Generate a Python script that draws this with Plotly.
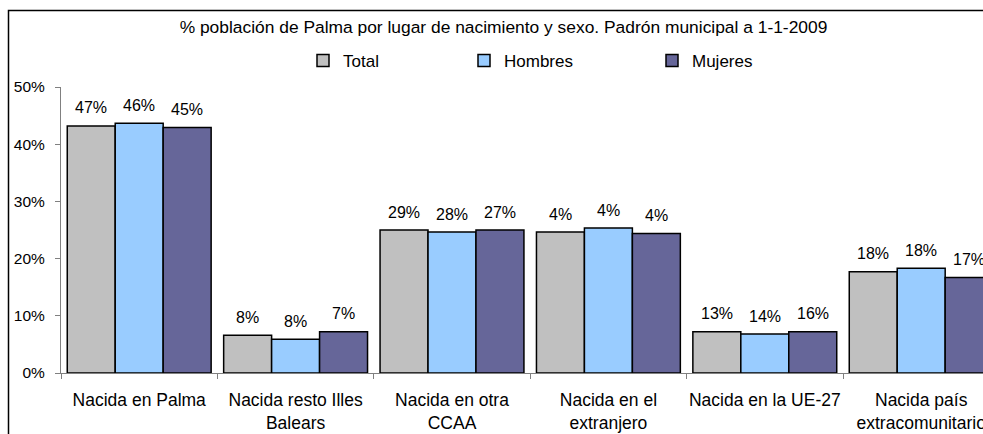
import plotly.graph_objects as go

categories = ["Nacida en Palma", "Nacida resto Illes<br>Balears", "Nacida en otra<br>CCAA",
              "Nacida en el<br>extranjero", "Nacida en la UE-27", "Nacida país<br>extracomunitario"]
series_names = ["Total", "Hombres", "Mujeres"]
total_vals = [43.2, 6.6, 25.0, 24.65, 7.2, 17.7]
hombres_vals = [43.65, 5.9, 24.65, 25.35, 6.8, 18.3]
mujeres_vals = [42.9, 7.2, 25.0, 24.4, 7.2, 16.7]
total_labels = ["47%", "8%", "29%", "4%", "13%", "18%"]
hombres_labels = ["46%", "8%", "28%", "4%", "14%", "18%"]
mujeres_labels = ["45%", "7%", "27%", "4%", "16%", "17%"]
colors = ["#C0C0C0", "#99CCFF", "#666699"]
y_ticks = [0, 10, 20, 30, 40, 50]
y_tick_text = ["0%", "10%", "20%", "30%", "40%", "50%"]

W, H = 983, 434
ML, MR, MT, MB = 61, 0, 87, 61
plot_w = W - ML - MR
cat_px = 156.4
x_end = -0.5 + plot_w / cat_px
bargap = 0.08
bar_px = cat_px * (1 - bargap) / 3
FONT = "Liberation Sans, Arial, sans-serif"

values = [total_vals, hombres_vals, mujeres_vals]
labels = [total_labels, hombres_labels, mujeres_labels]
legend_ids = ["legend", "legend2", "legend3"]

fig = go.Figure()
for i, name in enumerate(series_names):
    fig.add_trace(go.Bar(
        x=categories, y=values[i], name=name,
        marker=dict(color=colors[i], line=dict(color="black", width=1.5)),
        legend=legend_ids[i], hoverinfo="skip",
    ))

annotations = []
for i in range(3):
    for c, v, t in zip(categories, values[i], labels[i]):
        annotations.append(dict(
            x=c, y=v, text=t, showarrow=False, xref="x", yref="y",
            xshift=(i - 1) * bar_px, yshift=18, yanchor="middle",
            font=dict(family=FONT, size=16, color="black"),
        ))

def px_to_paper_x(px):
    return (px - ML) / plot_w

plot_h = H - MT - MB
def px_to_paper_y(py):
    return (H - MB - py) / plot_h

legend_text_px = [343, 504, 692]
legend_layout = {}
for lid, tx in zip(legend_ids, legend_text_px):
    legend_layout[lid] = dict(
        x=px_to_paper_x(tx - 40), y=px_to_paper_y(61), xanchor="left", yanchor="middle",
        orientation="h", bgcolor="rgba(0,0,0,0)", borderwidth=0,
        font=dict(family=FONT, size=17, color="black"),
    )

fig.update_layout(
    width=W, height=H,
    margin=dict(l=ML, r=MR, t=MT, b=MB, pad=0, autoexpand=False),
    paper_bgcolor="white", plot_bgcolor="white",
    barmode="group", bargap=bargap, bargroupgap=0,
    showlegend=True,
    title=dict(
        text="% población de Palma por lugar de nacimiento y sexo. Padrón municipal a 1-1-2009",
        x=503.5 / W, xanchor="center", y=1 - 27 / H, yanchor="middle",
        xref="container", yref="container", automargin=False,
        font=dict(family=FONT, size=17.4, color="black"),
    ),
    xaxis=dict(
        type="category", range=[-0.5, x_end], tickson="boundaries",
        ticks="outside", ticklen=5, tickcolor="#808080", tickwidth=1,
        showline=True, linecolor="#808080", linewidth=1, tickangle=0, automargin=False,
        showgrid=False, zeroline=False, ticklabelstandoff=11,
        tickfont=dict(family=FONT, size=17.5, color="black"),
    ),
    yaxis=dict(
        range=[0, 50], tickmode="array", tickvals=y_ticks, ticktext=y_tick_text,
        ticks="outside", ticklen=5, tickcolor="#808080", tickwidth=1,
        showline=True, linecolor="#808080", linewidth=1, automargin=False,
        showgrid=False, zeroline=False, ticklabelstandoff=7,
        tickfont=dict(family=FONT, size=15.5, color="black"),
    ),
    annotations=annotations,
    shapes=[dict(
        type="rect", xref="paper", yref="paper",
        x0=px_to_paper_x(8.5), x1=1.2, y0=-0.5, y1=px_to_paper_y(10.5),
        line=dict(color="black", width=1.5), fillcolor="rgba(0,0,0,0)", layer="below",
    )],
    **legend_layout,
)

fig.write_html(
    "out.html",
    config={"displayModeBar": False},
    post_script="document.body.style.margin='0';document.body.style.overflow='hidden';",
)
